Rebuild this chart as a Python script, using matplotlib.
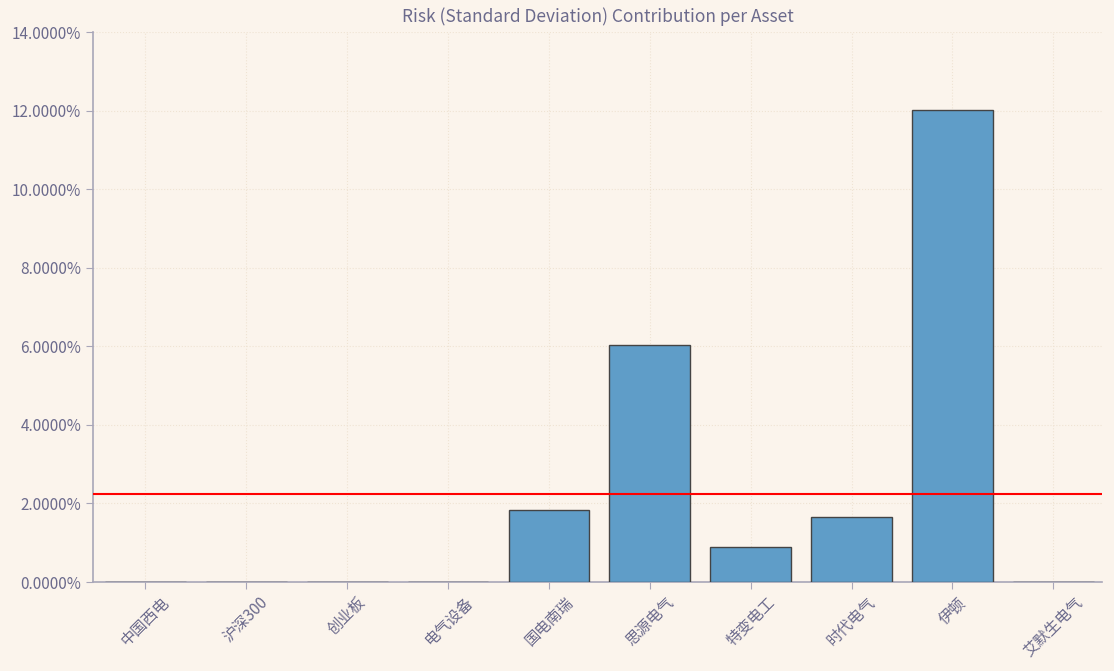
import matplotlib.pyplot as plt
from matplotlib.ticker import FuncFormatter
import numpy as np

plt.rcParams['font.family'] = ['Noto Sans CJK SC', 'DejaVu Sans']

assets = ["中国西电", "沪深300", "创业板", "电气设备", "国电南瑞",
          "思源电气", "特变电工", "时代电气", "伊顿", "艾默生电气"]
risk_contrib = [0.0, 0.0, 0.0, 0.0, 1.83, 6.03, 0.89, 1.65, 12.01, 0.0]

bg = "#fbf4ec"
txt = "#6b6a8c"

fig = plt.figure(figsize=(11.14, 6.71), dpi=100, facecolor=bg)
ax = fig.add_axes([0.0835, 0.1326, 0.9055, 0.8194], facecolor=bg)

x = np.arange(len(assets))
ax.bar(x, risk_contrib, width=0.8, color="#5f9dc8",
       edgecolor="#444444", linewidth=1.0, zorder=3)
# red line = average contribution
ax.axhline(np.mean(risk_contrib), color="red", linewidth=1.5, zorder=4)

ax.set_xlim(-0.52, 9.48)
ax.set_ylim(0, 14)
ax.set_yticks(np.arange(0, 15, 2))
ax.yaxis.set_major_formatter(FuncFormatter(lambda v, p: "%.4f%%" % v))
ax.set_xticks(x)
ax.set_xticklabels(assets, rotation=45, ha="center")

ax.grid(True, color="#efe3d3", linestyle=":", linewidth=0.8, zorder=0)
for s in ["top", "right"]:
    ax.spines[s].set_visible(False)
for s in ["left", "bottom"]:
    ax.spines[s].set_color("#a8a6b8")
    ax.spines[s].set_linewidth(1.2)
ax.tick_params(colors=txt, labelsize=11, length=5, color="#a8a6b8")

ax.set_title("Risk (Standard Deviation) Contribution per Asset",
             color=txt, fontsize=12.5, pad=7)

fig.savefig("out.png", dpi=100, facecolor=bg)
